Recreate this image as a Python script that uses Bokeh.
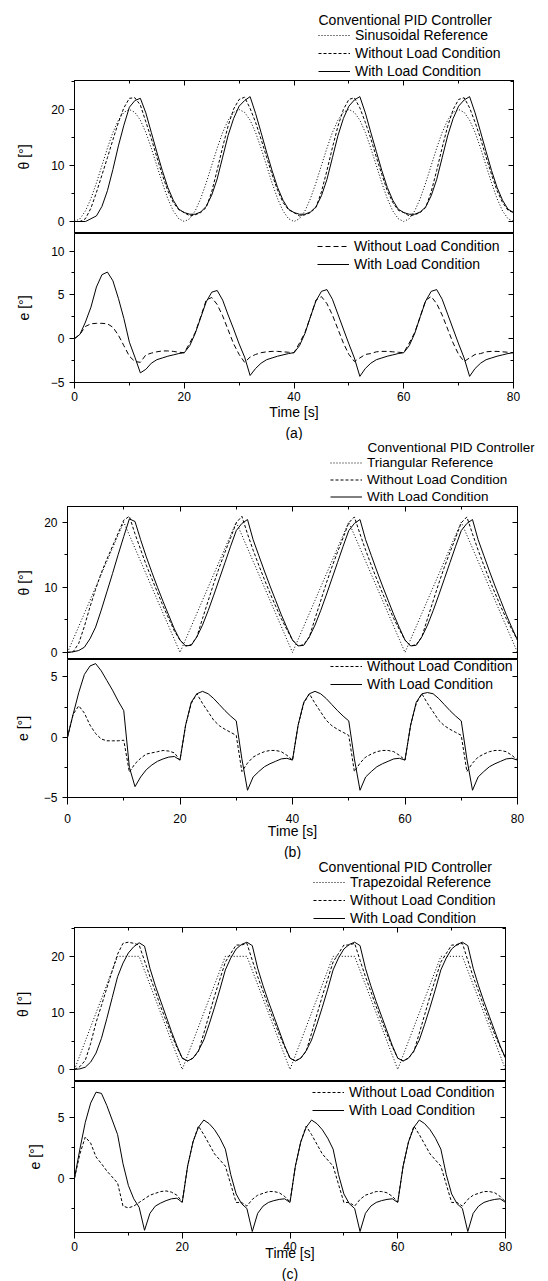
from bokeh.plotting import figure
from bokeh.layouts import column
from bokeh.models import (Range1d, LinearAxis, SingleIntervalTicker, Legend, LegendItem,
                          Title, Label, CustomJSTickFormatter)
from bokeh.embed import file_html
from bokeh.resources import INLINE

FONT = "Liberation Sans"

# ---------------- data (1 s sampling) ----------------
time_s = [0, 1, 2, 3, 4, 5, 6, 7, 8, 9, 10, 11, 12, 13, 14, 15, 16, 17, 18, 19,
          20, 21, 22, 23, 24, 25, 26, 27, 28, 29, 30, 31, 32, 33, 34, 35, 36, 37, 38, 39,
          40, 41, 42, 43, 44, 45, 46, 47, 48, 49, 50, 51, 52, 53, 54, 55, 56, 57, 58, 59,
          60, 61, 62, 63, 64, 65, 66, 67, 68, 69, 70, 71, 72, 73, 74, 75, 76, 77, 78, 79,
          80]

# (a) sinusoidal
sin_ref = [0, 0.5, 1.9, 4.1, 6.9, 10, 13.1, 15.9, 18.1, 19.5, 20, 19.5, 18.1, 15.9, 13.1, 10, 6.9, 4.1, 1.9, 0.5,
           0, 0.5, 1.9, 4.1, 6.9, 10, 13.1, 15.9, 18.1, 19.5, 20, 19.5, 18.1, 15.9, 13.1, 10, 6.9, 4.1, 1.9, 0.5,
           0, 0.5, 1.9, 4.1, 6.9, 10, 13.1, 15.9, 18.1, 19.5, 20, 19.5, 18.1, 15.9, 13.1, 10, 6.9, 4.1, 1.9, 0.5,
           0, 0.5, 1.9, 4.1, 6.9, 10, 13.1, 15.9, 18.1, 19.5, 20, 19.5, 18.1, 15.9, 13.1, 10, 6.9, 4.1, 1.9, 0.5,
           0]
sin_noload = [0, 0.0, 0.5, 2.4, 5.2, 8.3, 11.4, 14.6, 17.7, 20.3, 22.0, 22.1, 20.8, 17.8, 14.8, 11.5, 8.3, 5.5, 3.4, 2.1,
              1.6, 1.0, 1.2, 1.6, 2.5, 5.3, 9.2, 13.3, 17.1, 20.1, 21.8, 22.2, 20.2, 17.7, 14.7, 11.5, 8.4, 5.6, 3.4, 2.1,
              1.6, 1.0, 1.2, 1.6, 2.5, 5.3, 9.1, 13.2, 17.0, 20.0, 21.8, 22.1, 20.3, 17.7, 14.8, 11.5, 8.4, 5.5, 3.4, 2.0,
              1.6, 1.0, 1.2, 1.6, 2.5, 5.3, 9.1, 13.2, 17.0, 20.0, 21.8, 22.1, 20.3, 17.7, 14.8, 11.5, 8.4, 5.5, 3.4, 2.0,
              1.6]
sin_load = [0, 0, 0, 0.5, 1.0, 2.7, 5.5, 9.3, 13.5, 17.2, 20.4, 21.6, 22.0, 19.4, 15.9, 12.4, 9.1, 6.1, 3.8, 2.2,
            1.6, 1.3, 1.3, 1.7, 2.7, 4.7, 7.6, 11.5, 15.4, 18.4, 20.6, 21.6, 22.3, 19.3, 15.9, 12.4, 9.1, 6.1, 3.8, 2.2,
            1.6, 1.3, 1.3, 1.7, 2.6, 4.6, 7.5, 11.4, 15.3, 18.4, 20.6, 21.7, 22.3, 19.4, 15.9, 12.5, 9.1, 6.1, 3.8, 2.2,
            1.6, 1.3, 1.3, 1.7, 2.6, 4.6, 7.5, 11.4, 15.3, 18.4, 20.6, 21.7, 22.3, 19.4, 16.0, 12.5, 9.1, 6.1, 3.8, 2.2,
            1.6]
sin_e_noload = [0, 0.5, 1.4, 1.7, 1.75, 1.75, 1.7, 1.3, 0.4, -0.8, -2.0, -2.6, -2.7, -1.85, -1.65, -1.5, -1.4, -1.4, -1.45, -1.55,
                -1.6, -0.5, 0.7, 2.5, 4.4, 4.7, 3.9, 2.6, 1.0, -0.6, -1.8, -2.7, -2.1, -1.8, -1.6, -1.5, -1.45, -1.45, -1.5, -1.55,
                -1.6, -0.5, 0.7, 2.5, 4.4, 4.8, 4.0, 2.7, 1.1, -0.5, -1.8, -2.6, -2.2, -1.8, -1.7, -1.5, -1.45, -1.45, -1.5, -1.55,
                -1.6, -0.5, 0.7, 2.5, 4.4, 4.8, 4.0, 2.7, 1.1, -0.5, -1.8, -2.6, -2.2, -1.8, -1.7, -1.5, -1.45, -1.45, -1.5, -1.55,
                -1.6]
sin_e_load = [0, 0.5, 1.9, 3.6, 5.9, 7.3, 7.6, 6.6, 4.6, 2.3, -0.4, -2.1, -3.9, -3.5, -2.8, -2.4, -2.2, -2.0, -1.85, -1.7,
              -1.6, -0.8, 0.6, 2.4, 4.2, 5.3, 5.5, 4.4, 2.7, 1.1, -0.6, -2.1, -4.2, -3.4, -2.8, -2.4, -2.2, -2.0, -1.85, -1.7,
              -1.6, -0.8, 0.6, 2.5, 4.3, 5.4, 5.6, 4.5, 2.8, 1.1, -0.6, -2.2, -4.3, -3.4, -2.8, -2.4, -2.2, -2.0, -1.85, -1.7,
              -1.6, -0.8, 0.6, 2.5, 4.3, 5.4, 5.6, 4.5, 2.8, 1.1, -0.6, -2.2, -4.3, -3.4, -2.8, -2.4, -2.2, -2.0, -1.85, -1.7,
              -1.6]

# (b) triangular
tri_ref = [0, 2, 4, 6, 8, 10, 12, 14, 16, 18, 20, 18, 16, 14, 12, 10, 8, 6, 4, 2,
           0, 2, 4, 6, 8, 10, 12, 14, 16, 18, 20, 18, 16, 14, 12, 10, 8, 6, 4, 2,
           0, 2, 4, 6, 8, 10, 12, 14, 16, 18, 20, 18, 16, 14, 12, 10, 8, 6, 4, 2,
           0, 2, 4, 6, 8, 10, 12, 14, 16, 18, 20, 18, 16, 14, 12, 10, 8, 6, 4, 2,
           0]
tri_noload = [0, 0.1, 1.4, 4.0, 7.0, 9.7, 12.2, 14.3, 16.3, 18.3, 20.3, 20.9, 18.2, 15.8, 13.4, 11.3, 9.2, 7.1, 5.2, 3.3,
              1.9, 1.0, 1.2, 2.4, 5.2, 7.9, 10.6, 13.1, 15.4, 17.6, 19.9, 20.9, 18.2, 15.7, 13.4, 11.2, 9.1, 7.1, 5.2, 3.5,
              1.9, 1.0, 1.2, 2.4, 5.2, 7.9, 10.6, 13.1, 15.4, 17.6, 19.9, 20.8, 18.2, 15.7, 13.4, 11.2, 9.1, 7.1, 5.2, 3.5,
              1.9, 1.0, 1.2, 2.4, 5.2, 7.9, 10.6, 13.1, 15.4, 17.6, 19.9, 20.8, 18.2, 15.7, 13.4, 11.2, 9.1, 7.1, 5.2, 3.5,
              1.9]
tri_load = [0, 0.1, 0.3, 0.8, 2.1, 3.9, 6.5, 9.3, 12.1, 15.0, 17.8, 20.5, 20.1, 17.3, 14.7, 12.3, 10.0, 7.8, 5.7, 3.6,
            1.9, 1.0, 1.1, 2.4, 4.2, 6.4, 8.8, 11.3, 13.8, 16.3, 18.7, 19.8, 20.4, 17.3, 14.9, 12.5, 10.2, 8.0, 5.8, 3.8,
            1.9, 1.0, 1.1, 2.4, 4.2, 6.4, 8.8, 11.3, 13.8, 16.3, 18.7, 19.8, 20.4, 17.3, 14.9, 12.5, 10.2, 8.0, 5.8, 3.8,
            1.9, 1.0, 1.1, 2.4, 4.2, 6.4, 8.8, 11.3, 13.8, 16.3, 18.7, 19.8, 20.4, 17.3, 14.9, 12.5, 10.2, 8.0, 5.8, 3.8,
            1.9]
tri_e_noload = [0, 1.9, 2.6, 2.0, 1.0, 0.3, -0.15, -0.3, -0.3, -0.3, -0.25, -2.9, -2.2, -1.75, -1.4, -1.3, -1.2, -1.1, -1.15, -1.3,
                -1.9, 1.0, 2.8, 3.6, 2.8, 2.1, 1.4, 0.95, 0.65, 0.4, 0.15, -2.85, -2.15, -1.65, -1.4, -1.2, -1.1, -1.1, -1.2, -1.5,
                -1.9, 1.0, 2.8, 3.6, 2.8, 2.1, 1.4, 0.95, 0.65, 0.4, 0.15, -2.85, -2.15, -1.65, -1.4, -1.2, -1.1, -1.1, -1.2, -1.5,
                -1.9, 1.0, 2.8, 3.6, 2.8, 2.1, 1.4, 0.95, 0.65, 0.4, 0.15, -2.85, -2.15, -1.65, -1.4, -1.2, -1.1, -1.1, -1.2, -1.5,
                -1.9]
tri_e_load = [0, 1.9, 3.7, 5.2, 5.9, 6.1, 5.5, 4.7, 3.9, 3.0, 2.2, -2.5, -4.1, -3.3, -2.7, -2.3, -2.0, -1.8, -1.65, -1.6,
              -1.9, 1.0, 2.9, 3.6, 3.8, 3.6, 3.2, 2.7, 2.2, 1.75, 1.35, -1.8, -4.4, -3.3, -2.85, -2.45, -2.2, -2.0, -1.8, -1.75,
              -1.9, 1.0, 2.9, 3.6, 3.8, 3.6, 3.2, 2.7, 2.2, 1.75, 1.35, -1.8, -4.4, -3.3, -2.85, -2.45, -2.2, -2.0, -1.8, -1.75,
              -1.9, 1.0, 2.9, 3.6, 3.7, 3.6, 3.2, 2.7, 2.2, 1.75, 1.35, -1.8, -4.4, -3.3, -2.85, -2.45, -2.2, -2.0, -1.8, -1.75,
              -1.9]

# (c) trapezoidal
trap_ref = [0, 2.5, 5, 7.5, 10, 12.5, 15, 17.5, 20, 20, 20, 20, 20, 17.5, 15, 12.5, 10, 7.5, 5, 2.5,
            0, 2.5, 5, 7.5, 10, 12.5, 15, 17.5, 20, 20, 20, 20, 20, 17.5, 15, 12.5, 10, 7.5, 5, 2.5,
            0, 2.5, 5, 7.5, 10, 12.5, 15, 17.5, 20, 20, 20, 20, 20, 17.5, 15, 12.5, 10, 7.5, 5, 2.5,
            0, 2.5, 5, 7.5, 10, 12.5, 15, 17.5, 20, 20, 20, 20, 20, 17.5, 15, 12.5, 10, 7.5, 5, 2.5,
            0]
trap_noload = [0, 0.5, 1.6, 4.6, 8.3, 11.3, 14.4, 17.4, 20.4, 22.3, 22.5, 22.3, 22.0, 19.2, 16.4, 13.8, 11.1, 8.6, 6.2, 3.9,
               2.0, 1.5, 2.0, 3.2, 6.4, 9.7, 13.0, 16.0, 19.0, 20.5, 22.0, 22.0, 22.3, 19.3, 16.4, 13.8, 11.1, 8.6, 6.2, 4.0,
               2.0, 1.5, 2.0, 3.2, 6.4, 9.7, 13.0, 16.0, 19.0, 20.5, 22.0, 22.0, 22.3, 19.3, 16.4, 13.8, 11.1, 8.6, 6.2, 4.0,
               2.0, 1.5, 2.0, 3.2, 6.4, 9.7, 13.0, 16.0, 19.0, 20.5, 22.0, 22.0, 22.3, 19.3, 16.4, 13.8, 11.1, 8.6, 6.2, 4.0,
               2.0]
trap_load = [0, 0.1, 0.4, 1.3, 2.9, 5.5, 9.0, 12.7, 16.4, 18.8, 20.6, 21.7, 22.4, 21.8, 17.9, 14.8, 12.1, 9.4, 6.7, 4.2,
             2.0, 1.5, 2.0, 3.3, 5.2, 8.0, 11.0, 14.2, 17.6, 19.7, 21.3, 22.1, 22.5, 21.9, 17.9, 14.8, 12.0, 9.4, 6.8, 4.2,
             2.0, 1.5, 2.0, 3.3, 5.2, 8.0, 11.0, 14.2, 17.6, 19.7, 21.3, 22.1, 22.5, 21.9, 17.9, 14.8, 12.0, 9.4, 6.8, 4.2,
             2.0, 1.5, 2.0, 3.3, 5.2, 8.0, 11.0, 14.2, 17.6, 19.7, 21.3, 22.1, 22.5, 21.9, 17.9, 14.8, 12.0, 9.4, 6.8, 4.2,
             2.0]
trap_e_noload = [0, 2.0, 3.4, 2.9, 1.75, 1.2, 0.6, 0.1, -0.4, -2.3, -2.45, -2.3, -2.0, -1.7, -1.4, -1.25, -1.1, -1.05, -1.15, -1.4,
                 -1.95, 1.0, 3.0, 4.3, 3.6, 2.8, 2.0, 1.5, 1.0, -0.5, -2.0, -2.0, -2.3, -1.75, -1.4, -1.25, -1.1, -1.1, -1.2, -1.5,
                 -1.95, 1.0, 3.0, 4.3, 3.6, 2.8, 2.0, 1.5, 1.0, -0.5, -2.0, -2.0, -2.3, -1.75, -1.4, -1.25, -1.1, -1.1, -1.2, -1.5,
                 -1.95, 1.0, 3.0, 4.3, 3.6, 2.8, 2.0, 1.5, 1.0, -0.5, -2.0, -2.0, -2.3, -1.75, -1.4, -1.25, -1.1, -1.1, -1.2, -1.5,
                 -1.95]
trap_e_load = [0, 2.4, 4.6, 6.2, 7.1, 7.0, 6.0, 4.8, 3.6, 1.2, -0.6, -1.7, -2.4, -4.3, -2.9, -2.3, -2.05, -1.85, -1.7, -1.65,
               -2.0, 1.0, 3.0, 4.2, 4.8, 4.5, 4.0, 3.3, 2.4, 0.3, -1.3, -2.1, -2.5, -4.4, -2.9, -2.3, -2.0, -1.85, -1.75, -1.7,
               -2.0, 1.0, 3.0, 4.2, 4.8, 4.5, 4.0, 3.3, 2.4, 0.3, -1.3, -2.1, -2.5, -4.4, -2.9, -2.3, -2.0, -1.85, -1.75, -1.7,
               -2.0, 1.0, 3.0, 4.2, 4.8, 4.5, 4.0, 3.3, 2.4, 0.3, -1.3, -2.1, -2.5, -4.4, -2.9, -2.3, -2.0, -1.85, -1.75, -1.7,
               -2.0]

legend_title = "Conventional PID Controller"
lbl_noload = "Without Load Condition"
lbl_load = "With Load Condition"

DOT = "1 2"


# ---------------- helpers ----------------
def style_axis(ax, tick_out=5, label_standoff=5, axis_label_standoff=10):
    ax.axis_line_color = "black"
    ax.major_tick_line_color = "black"
    ax.minor_tick_line_color = "black"
    ax.major_tick_in = 0
    ax.major_tick_out = tick_out
    ax.minor_tick_in = 0
    ax.minor_tick_out = 3
    ax.major_label_text_font = FONT
    ax.major_label_text_font_size = "12px"
    ax.major_label_text_color = "black"
    ax.major_label_standoff = label_standoff
    ax.axis_label_text_font = FONT
    ax.axis_label_text_font_size = "14px"
    ax.axis_label_text_font_style = "normal"
    ax.axis_label_text_color = "black"
    ax.axis_label_standoff = axis_label_standoff


def add_mirror(p, side, interval):
    ax = LinearAxis(ticker=SingleIntervalTicker(interval=interval, num_minor_ticks=2),
                    formatter=CustomJSTickFormatter(code="return ''"))
    ax.axis_line_color = "black"
    ax.major_tick_line_color = "black"
    ax.minor_tick_line_color = "black"
    ax.major_tick_in = 5
    ax.major_tick_out = 0
    ax.minor_tick_in = 3
    ax.minor_tick_out = 0
    ax.major_label_standoff = 0
    ax.major_label_text_font_size = "0px"
    p.add_layout(ax, side)


def make_legend(items, loc, row_h, font_size="14px"):
    lg = Legend(items=items, location=loc, orientation="vertical")
    lg.label_text_font = FONT
    lg.label_text_font_size = font_size
    lg.label_text_color = "black"
    lg.glyph_width = 32
    lg.glyph_height = row_h
    lg.label_height = row_h
    lg.label_standoff = 5
    lg.spacing = 0
    lg.padding = 0
    lg.margin = 0
    lg.border_line_color = None
    lg.background_fill_alpha = 0
    return lg


def base_fig(width, height, yr, left, right, top, bottom, x_axis, y_axis="left"):
    p = figure(width=width, height=height, x_range=Range1d(0, 80), y_range=Range1d(*yr),
               x_axis_location=x_axis, y_axis_location=y_axis, output_backend="svg",
               toolbar_location=None, min_border_left=left, min_border_right=right,
               min_border_top=top, min_border_bottom=bottom)
    p.xgrid.visible = False
    p.ygrid.visible = False
    p.outline_line_color = "black"
    p.outline_line_width = 1
    p.outline_line_alpha = 1
    p.background_fill_color = "white"
    p.border_fill_color = "white"
    return p


def header_fig(ref, noload, load, ref_label, left, width, height, dash_noload,
               legend_loc, row_h, title_xy, font_size="14px"):
    """Legend block above a theta panel; its y-range lies far above the data, so the
    series only feed the legend glyphs."""
    h = base_fig(width, height, (1000, 1001), left, 0, 0, 0, None, None)
    h.outline_line_color = None
    k1 = h.line(time_s, ref, line_color="black", line_width=1, line_dash=DOT)
    k2 = h.line(time_s, noload, line_color="black", line_width=1, line_dash=dash_noload)
    k3 = h.line(time_s, load, line_color="black", line_width=1)
    h.add_layout(make_legend([LegendItem(label=ref_label, renderers=[k1]),
                              LegendItem(label=lbl_noload, renderers=[k2]),
                              LegendItem(label=lbl_load, renderers=[k3])], legend_loc, row_h,
                             font_size))
    h.add_layout(Label(x=title_xy[0], y=title_xy[1], x_units="screen", y_units="screen",
                       text=legend_title, text_font=FONT, text_font_size=font_size,
                       text_color="black", text_align="left", text_baseline="middle"))
    return h


def theta_panel(ref, noload, load, yr, left, frame_w, frame_h, right, ylab_standoff, dash_noload):
    p = base_fig(left + frame_w + right, frame_h, yr, left, right, 0, 0, None)
    p.line(time_s, ref, line_color="black", line_width=1, line_dash=DOT)
    p.line(time_s, noload, line_color="black", line_width=1, line_dash=dash_noload)
    p.line(time_s, load, line_color="black", line_width=1)
    p.yaxis.ticker = SingleIntervalTicker(interval=10, num_minor_ticks=2)
    p.yaxis.axis_label = "θ [°]"
    for ax in p.yaxis:
        style_axis(ax, axis_label_standoff=ylab_standoff)
    add_mirror(p, "above", 20)
    add_mirror(p, "right", 10)
    return p


def error_panel(noload, load, yr, left, frame_w, frame_h, bottom, right, ylab_standoff,
                xtick_out, xlabel_standoff, xlab_axis_standoff, legend_loc, caption,
                caption_offset, dash_noload):
    p = base_fig(left + frame_w + right, frame_h + bottom, yr, left, right, 0, bottom, "below")
    r2 = p.line(time_s, noload, line_color="black", line_width=1, line_dash=dash_noload)
    r3 = p.line(time_s, load, line_color="black", line_width=1)
    p.xaxis.ticker = SingleIntervalTicker(interval=20, num_minor_ticks=2)
    p.yaxis.ticker = SingleIntervalTicker(interval=5, num_minor_ticks=2)
    p.xaxis.axis_label = "Time [s]"
    p.yaxis.axis_label = "e [°]"
    for ax in p.yaxis:
        style_axis(ax, axis_label_standoff=ylab_standoff)
    for ax in p.xaxis:
        style_axis(ax, tick_out=xtick_out, label_standoff=xlabel_standoff,
                   axis_label_standoff=xlab_axis_standoff)
    add_mirror(p, "right", 5)
    p.add_layout(make_legend([LegendItem(label=lbl_noload, renderers=[r2]),
                              LegendItem(label=lbl_load, renderers=[r3])], legend_loc, 18), "center")
    p.add_layout(Title(text=caption, align="center", offset=caption_offset, standoff=0,
                       text_font=FONT, text_font_size="14px", text_font_style="normal",
                       text_color="black"), "below")
    return p


# ---------------- panels ----------------
# group (a): 0-80 header, 80-233 theta, 233-440 error      (frame x 74..513)
ha = header_fig(sin_ref, sin_noload, sin_load, "Sinusoidal Reference", 74, 527, 80, "3 2",
                (244, 0), 18, (244, 61))
ta = theta_panel(sin_ref, sin_noload, sin_load, (-2.14, 25.18), 74, 439, 153, 14, 16, "3 2")
ea = error_panel(sin_e_noload, sin_e_load, (-5, 12), 74, 439, 151, 56, 14, 16,
                 6, 3, 0, (243, 109), "(a)", -5.5, "5 3")

# group (b): 440-506 header, 506-659 theta, 659-859 error   (frame x 67..517)
hb = header_fig(tri_ref, tri_noload, tri_load, "Triangular Reference", 67, 548, 66, "3 2",
                (263, 1), 17, (300, 59), "13.5px")
tb = theta_panel(tri_ref, tri_noload, tri_load, (-1.08, 22.4), 67, 450, 153, 14, 9, "3 2")
eb = error_panel(tri_e_noload, tri_e_load, (-5, 6.44), 67, 450, 141, 59, 14, 10,
                 7, 9, -3, (263, 104), "(b)", -5, "3 2")

# group (c): 859-927 header, 927-1081 theta, 1081-1281 error (frame x 74..505)
hc = header_fig(trap_ref, trap_noload, trap_load, "Trapezoidal Reference", 74, 519, 68, "3 2",
                (239, 0), 18, (244, 61))
tc = theta_panel(trap_ref, trap_noload, trap_load, (-2.13, 25.1), 74, 431, 154, 14, 17, "3 2")
ec = error_panel(trap_e_noload, trap_e_load, (-4.48, 7.98), 74, 431, 152, 48, 14, 12,
                 6, 3, -9, (238, 113), "(c)", -2.5, "3 2")

layout = column(column(ha, ta, ea, spacing=0),
                column(hb, tb, eb, spacing=0),
                column(hc, tc, ec, spacing=0), spacing=0)
open("out.html", "w").write(file_html(layout, INLINE, "chart"))
